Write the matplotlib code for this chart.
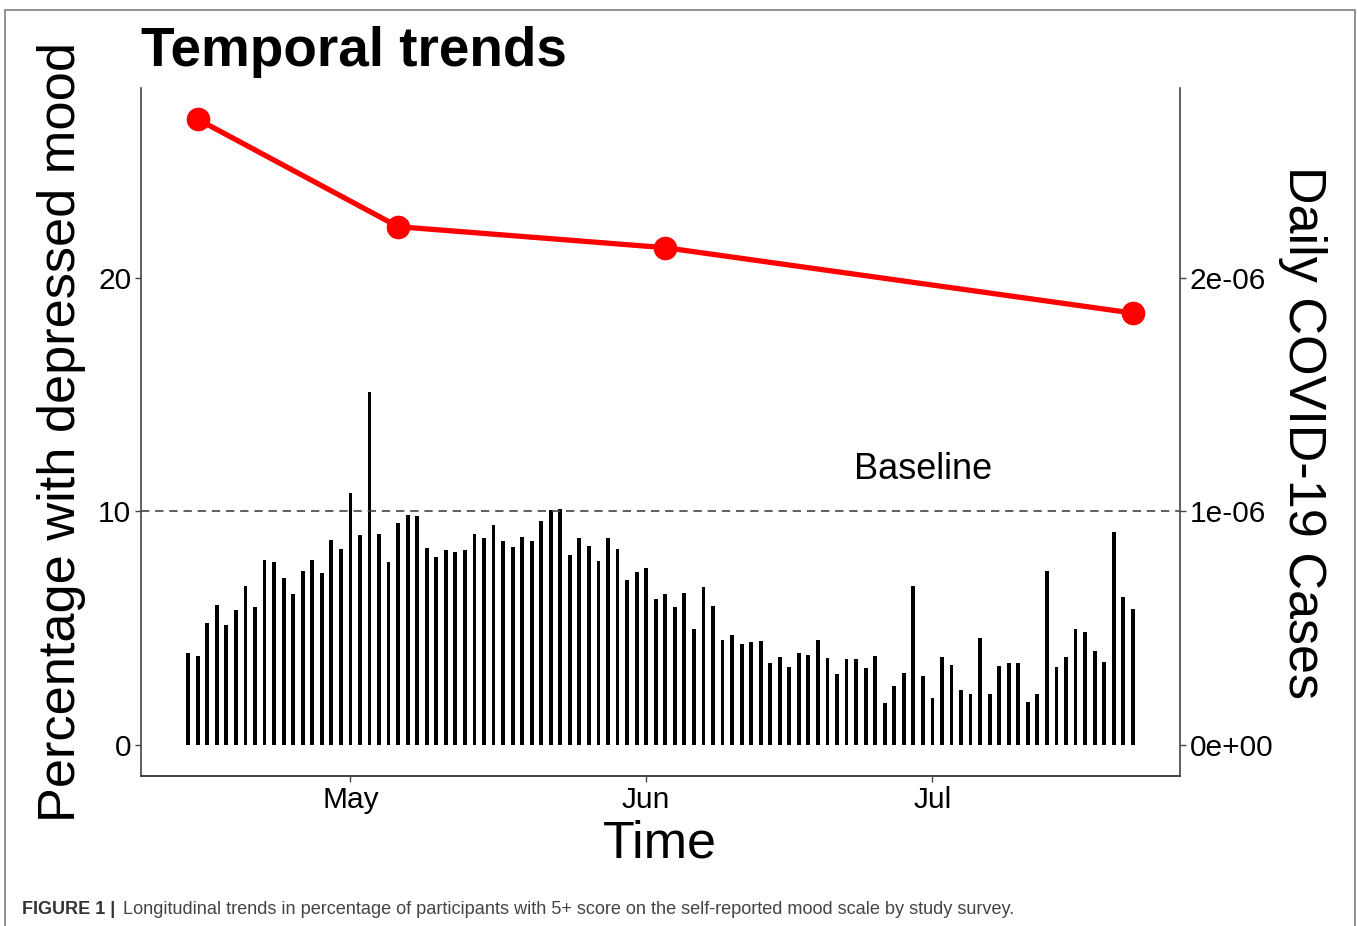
import numpy as np
import matplotlib
matplotlib.use("Agg")
import matplotlib.pyplot as plt
import matplotlib.dates as mdates
from matplotlib.patches import Rectangle

plt.rcParams['font.family'] = ['Liberation Sans', 'DejaVu Sans']

# survey waves: percentage with depressed mood
survey_dates = np.array(['2020-04-15', '2020-05-06', '2020-06-03', '2020-07-22'], dtype='datetime64[D]')
pct_depressed = [26.8, 22.2, 21.3, 18.5]

# daily covid-19 cases (per capita), in units of 1e-7
case_dates = np.arange('2020-04-14', '2020-07-23', dtype='datetime64[D]')
daily_cases = [
    3.93, 3.82, 5.21, 5.99, 5.12, 5.77, 6.81, 5.91, 7.93, 7.85, 7.14, 6.47, 7.47, 7.93,
    7.35, 8.77, 8.40, 10.79, 9.00, 15.12, 9.03, 7.85,
    9.49, 9.87, 9.79, 8.44, 8.07, 8.35, 8.27, 8.35, 9.03, 8.86, 9.41, 8.74, 8.50, 8.91,
    8.74, 9.61, 10.07, 10.11, 8.15, 8.86, 8.53, 7.90, 8.86, 8.40, 7.05, 7.40, 7.60,
    6.25, 6.47, 5.92, 6.51, 4.96, 6.77, 5.97, 4.49, 4.71, 4.32, 4.41, 4.45, 3.52, 3.78,
    3.32, 3.93, 3.85, 4.49, 3.73, 3.06, 3.69, 3.69, 3.28, 3.82, 1.80, 2.52,
    3.08, 6.81, 2.95, 2.02, 3.78, 3.43, 2.35, 2.19, 4.58, 2.19, 3.38, 3.49, 3.49, 1.85,
    2.19, 7.44, 3.32, 3.78, 4.96, 4.82, 4.02, 3.56, 9.11, 6.34, 5.84,
]
case_scale = 1e-7
baseline = 10
left_ticks = [0, 10, 20]
right_tick_labels = ['0e+00', '1e-06', '2e-06']

W, H = 1357, 926
fig = plt.figure(figsize=(W / 100, H / 100), dpi=100)
ax = fig.add_axes([141 / W, 1 - 776 / H, (1180 - 141) / W, (776 - 88) / H])
ax2 = ax.twinx()

# bars on the right-hand axis
ax2.bar(case_dates, np.array(daily_cases) * case_scale, width=0.4, color='black', zorder=2)

ax.axhline(baseline, color='#444444', lw=1.2, ls=(0, (5, 3.5)), zorder=1)
ax.plot(survey_dates, pct_depressed, color='#ff0000', lw=3.8, marker='o', ms=16,
        zorder=5, solid_capstyle='round')
ax.text(np.datetime64('2020-06-30'), 11.8, 'Baseline', fontsize=26, ha='center', va='center')

# keep line above the bars
ax.set_zorder(ax2.get_zorder() + 1)
ax.patch.set_visible(False)

x0 = mdates.date2num(np.datetime64('2020-04-14')) - 4.95
x1 = mdates.date2num(np.datetime64('2020-07-22')) + 4.95
ax.set_xlim(x0, x1)
ylo, yhi = -1.33, 28.14
ax.set_ylim(ylo, yhi)
ax2.set_ylim(ylo * case_scale, yhi * case_scale)

ax.set_yticks(left_ticks)
ax2.set_yticks([t * case_scale for t in left_ticks])
ax2.set_yticklabels(right_tick_labels)

ax.xaxis.set_major_locator(mdates.MonthLocator(bymonth=[5, 6, 7]))
ax.xaxis.set_major_formatter(mdates.DateFormatter('%b'))

for a in (ax, ax2):
    a.spines['top'].set_visible(False)
    for s in a.spines.values():
        s.set_color('#444444')
        s.set_linewidth(1.2)
    a.tick_params(length=4, width=1, color='#444444', labelsize=21.5, pad=3)
ax2.spines['left'].set_visible(False)
ax.spines['right'].set_visible(False)

fig.text(141 / W, 1 - 66 / H, 'Temporal trends', fontsize=39.5, fontweight='bold', va='baseline')
fig.text(62 / W, 1 - 432 / H, 'Percentage with depressed mood', fontsize=37.7,
         rotation=90, ha='center', va='center')
fig.text(1302 / W, 1 - 433 / H, 'Daily COVID-19 Cases', fontsize=37.5,
         rotation=270, ha='center', va='center')
fig.text(660 / W, 1 - 858 / H, 'Time', fontsize=37.5, ha='center', va='baseline')

# caption
fig.text(22 / W, 1 - 914 / H, 'FIGURE 1 |', fontsize=13, fontweight='bold',
         color='#333333', va='baseline')
fig.text(123 / W, 1 - 914 / H,
         'Longitudinal trends in percentage of participants with 5+ score on the '
         'self-reported mood scale by study survey.',
         fontsize=13.1, color='#444444', va='baseline')

# frame around the figure panel
fig.patches.append(Rectangle((5 / W, -0.01), (1355 - 5) / W, 1 - 10 / H + 0.01,
                             transform=fig.transFigure, fill=False,
                             edgecolor='#888888', lw=1.3))

fig.savefig('out.png', dpi=100)
